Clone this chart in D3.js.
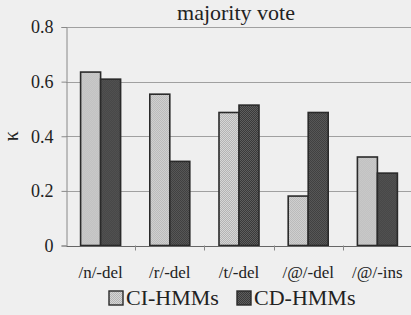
<!DOCTYPE html>
<html>
<head>
<meta charset="utf-8">
<script src="https://cdn.jsdelivr.net/npm/d3@7"></script>
<style>
  body { margin: 0; background: #efefef; }
</style>
</head>
<body>
<svg width="411" height="315"></svg>
<script>
var svg = d3.select("svg"),
    width = +svg.attr("width"),
    height = +svg.attr("height");

var serif = "'Liberation Serif'";

// data
var categories = ["/n/-del", "/r/-del", "/t/-del", "/@/-del", "/@/-ins"];
var series = ["CI-HMMs", "CD-HMMs"];
var ciValues = [0.635, 0.554, 0.487, 0.181, 0.324];
var cdValues = [0.609, 0.308, 0.514, 0.487, 0.265];
var yTicks = [0, 0.2, 0.4, 0.6, 0.8];

var margin = {top: 27, right: -1, bottom: 70, left: 66};

var x = d3.scaleBand()
  .domain(categories)
  .range([margin.left, width - margin.right]);

var xs = d3.scaleBand()
  .domain(series)
  .range([0, 40]);

var y = d3.scaleLinear()
  .domain([0, 0.8])
  .range([height - margin.bottom + 0.5, margin.top]);

svg.append("rect")
  .attr("width", width).attr("height", height)
  .attr("fill", "#efefef");

// dithered fills
var defs = svg.append("defs");
function pattern(id, a, b) {
  var p = defs.append("pattern")
    .attr("id", id)
    .attr("width", 2).attr("height", 2)
    .attr("patternUnits", "userSpaceOnUse");
  p.append("rect").attr("width", 2).attr("height", 2).attr("fill", a);
  p.append("rect").attr("width", 1).attr("height", 1).attr("fill", b);
  p.append("rect").attr("x", 1).attr("y", 1).attr("width", 1).attr("height", 1).attr("fill", b);
}
pattern("ci", "#d6d6d6", "#b4b4b4");
pattern("cd", "#5e5e5e", "#3a3a3a");
var fills = {"CI-HMMs": "url(#ci)", "CD-HMMs": "url(#cd)"};

// gridlines
svg.append("g")
  .selectAll("line")
  .data(yTicks.slice(1))
  .join("line")
    .attr("x1", margin.left)
    .attr("x2", width)
    .attr("y1", d => Math.round(y(d)) + 0.5)
    .attr("y2", d => Math.round(y(d)) + 0.5)
    .attr("stroke", "#a0a0a0")
    .attr("stroke-width", 1);

// y axis
var yAxis = svg.append("g")
  .attr("transform", "translate(" + (margin.left + 0.5) + ",0)")
  .call(d3.axisLeft(y).tickValues(yTicks).tickSize(5).tickPadding(8)
    .tickFormat(d => d === 0 ? "0" : d.toFixed(1)));
yAxis.select(".domain").attr("stroke", "#888");
yAxis.selectAll(".tick line").attr("stroke", "#888");
yAxis.selectAll("text")
  .style("font-family", serif)
  .attr("font-size", 18)
  .attr("fill", "#222");

// bars
var rows = categories.map(function(c, i) {
  return {cat: c, vals: [{s: "CI-HMMs", v: ciValues[i]}, {s: "CD-HMMs", v: cdValues[i]}]};
});

svg.append("g")
  .selectAll("g")
  .data(rows)
  .join("g")
    .attr("transform", d => "translate(" + (x(d.cat) + (x.bandwidth() - 40) / 2) + ",0)")
  .selectAll("rect")
  .data(d => d.vals)
  .join("rect")
    .attr("x", d => xs(d.s))
    .attr("y", d => y(d.v))
    .attr("width", xs.bandwidth())
    .attr("height", d => y(0) - y(d.v))
    .attr("fill", d => fills[d.s])
    .attr("stroke", "#2a2a2a")
    .attr("stroke-width", 1.6);

// x axis
var xAxis = svg.append("g")
  .attr("transform", "translate(0," + (y(0) + 0.5) + ")")
  .call(d3.axisBottom(x).tickSize(0).tickPadding(20));
xAxis.select(".domain").attr("stroke", "#666");
xAxis.selectAll("text")
  .style("font-family", serif)
  .attr("font-size", 17)
  .attr("fill", "#222");

// small ticks at band boundaries
svg.append("g")
  .selectAll("line")
  .data(categories.slice(1))
  .join("line")
    .attr("x1", d => Math.round(x(d)) + 0.5)
    .attr("x2", d => Math.round(x(d)) + 0.5)
    .attr("y1", y(0))
    .attr("y2", y(0) + 5)
    .attr("stroke", "#888");

// title
svg.append("text")
  .style("font-family", serif)
  .attr("x", 236)
  .attr("y", 20)
  .attr("text-anchor", "middle")
  .attr("font-size", 22)
  .attr("fill", "#222")
  .text("majority vote");

// y label
svg.append("text")
  .style("font-family", serif)
  .attr("transform", "translate(18," + y(0.4) + ") rotate(-90)")
  .attr("text-anchor", "middle")
  .attr("font-size", 20)
  .attr("fill", "#222")
  .text("κ");

// legend
var legend = svg.append("g")
  .attr("transform", "translate(0,298)");
var legendX = [109, 237];
series.forEach(function(s, i) {
  legend.append("rect")
    .attr("x", legendX[i])
    .attr("y", -7)
    .attr("width", 14)
    .attr("height", 14)
    .attr("fill", fills[s])
    .attr("stroke", "#2a2a2a")
    .attr("stroke-width", 1.4);
  legend.append("text")
    .style("font-family", serif)
    .attr("x", legendX[i] + 17)
    .attr("y", 7)
    .attr("font-size", 22)
    .attr("fill", "#222")
    .text(s);
});
</script>
</body>
</html>
